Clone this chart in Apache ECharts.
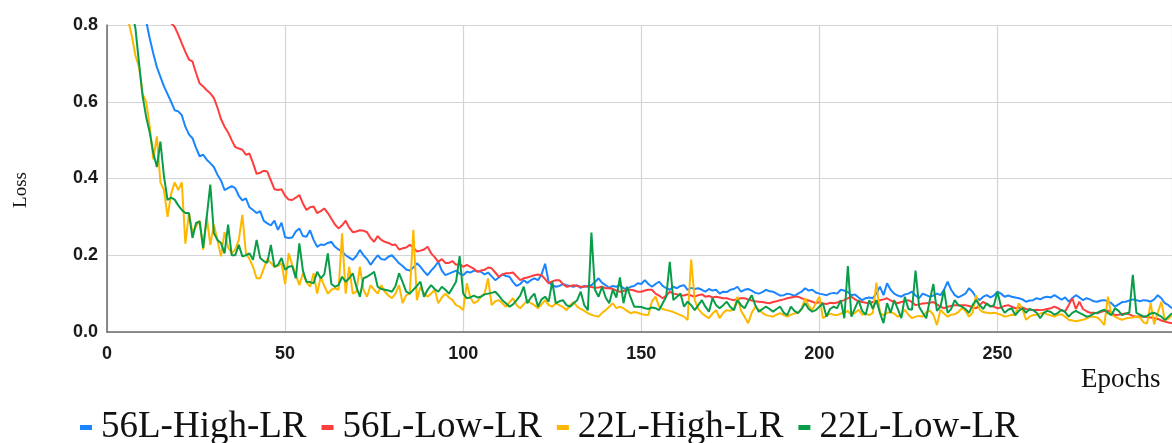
<!DOCTYPE html>
<html>
<head>
<meta charset="utf-8">
<script src="https://cdn.jsdelivr.net/npm/echarts@6/dist/echarts.min.js"></script>
<style>
html,body{margin:0;padding:0;background:#fff;}
#chart{width:1172px;height:443px;}
</style>
</head>
<body>
<div id="chart"></div>
<script>
// Epoch numbers 1..299 (x categories)
const epochs = [];
for (let e = 1; e <= 299; e++) epochs.push(e);

const seriesNames = ['56L-High-LR', '56L-Low-LR', '22L-High-LR', '22L-Low-LR'];
const xTicks = [0, 50, 100, 150, 200, 250];
const yTicks = [0.0, 0.2, 0.4, 0.6, 0.8];

const blue56High = [
2.10,1.80,1.55,1.38,1.24,1.12,1.03,0.96,0.90,0.85,
0.81,0.765,0.726,0.69,0.665,0.64,0.62,0.60,0.578,0.575,
0.565,0.535,0.515,0.505,0.48,0.458,0.462,0.449,0.44,0.43,
0.41,0.395,0.37,0.375,0.38,0.375,0.355,0.343,0.348,0.325,
0.318,0.31,0.315,0.29,0.283,0.278,0.29,0.266,0.285,0.247,
0.245,0.246,0.262,0.27,0.25,0.248,0.265,0.24,0.222,0.228,
0.227,0.232,0.235,0.222,0.215,0.21,0.20,0.194,0.188,0.198,
0.214,0.20,0.19,0.175,0.188,0.20,0.19,0.188,0.196,0.20,
0.19,0.179,0.172,0.163,0.16,0.168,0.179,0.17,0.158,0.148,
0.16,0.17,0.183,0.16,0.148,0.152,0.156,0.16,0.152,0.148,
0.157,0.155,0.16,0.158,0.157,0.15,0.155,0.145,0.135,0.142,
0.15,0.146,0.144,0.13,0.12,0.125,0.135,0.128,0.135,0.14,
0.135,0.15,0.178,0.13,0.122,0.118,0.12,0.125,0.122,0.12,
0.118,0.122,0.115,0.12,0.118,0.122,0.13,0.14,0.128,0.122,
0.115,0.12,0.118,0.122,0.114,0.112,0.118,0.12,0.127,0.125,
0.135,0.125,0.118,0.125,0.131,0.12,0.114,0.11,0.118,0.114,
0.12,0.122,0.11,0.115,0.112,0.114,0.11,0.105,0.112,0.108,
0.11,0.10,0.105,0.104,0.11,0.112,0.118,0.105,0.11,0.112,
0.108,0.102,0.10,0.104,0.11,0.106,0.105,0.10,0.095,0.096,
0.10,0.098,0.094,0.10,0.105,0.114,0.108,0.11,0.103,0.10,
0.098,0.096,0.10,0.102,0.10,0.11,0.108,0.104,0.096,0.098,
0.09,0.083,0.088,0.09,0.088,0.10,0.118,0.096,0.127,0.11,
0.10,0.095,0.092,0.098,0.10,0.105,0.095,0.088,0.10,0.096,
0.092,0.095,0.10,0.096,0.11,0.131,0.11,0.096,0.09,0.095,
0.10,0.114,0.105,0.09,0.083,0.092,0.096,0.09,0.095,0.105,
0.10,0.092,0.095,0.092,0.09,0.088,0.085,0.079,0.082,0.083,
0.088,0.085,0.09,0.092,0.09,0.096,0.09,0.084,0.09,0.079,
0.088,0.096,0.09,0.083,0.088,0.085,0.08,0.079,0.082,0.083,
0.08,0.075,0.066,0.072,0.078,0.079,0.082,0.085,0.083,0.08,
0.083,0.082,0.079,0.085,0.096,0.088,0.075,0.07,0.062
];

const red56Low = [
2.40,2.10,1.85,1.65,1.50,1.38,1.28,1.19,1.12,1.06,
1.01,0.965,0.93,0.895,0.865,0.84,0.82,0.805,0.795,0.775,
0.752,0.73,0.71,0.705,0.675,0.648,0.64,0.63,0.622,0.61,
0.585,0.555,0.535,0.52,0.50,0.482,0.478,0.475,0.462,0.465,
0.44,0.412,0.415,0.42,0.418,0.395,0.372,0.37,0.372,0.355,
0.345,0.344,0.35,0.357,0.335,0.318,0.325,0.327,0.31,0.315,
0.322,0.31,0.295,0.28,0.27,0.278,0.29,0.272,0.26,0.262,
0.265,0.264,0.26,0.245,0.235,0.25,0.24,0.235,0.232,0.227,
0.228,0.215,0.218,0.22,0.227,0.22,0.21,0.212,0.215,0.222,
0.205,0.195,0.183,0.19,0.18,0.18,0.185,0.175,0.177,0.17,
0.175,0.17,0.165,0.157,0.16,0.162,0.168,0.166,0.155,0.144,
0.15,0.153,0.153,0.155,0.145,0.135,0.14,0.142,0.145,0.148,
0.15,0.148,0.138,0.127,0.132,0.135,0.135,0.125,0.118,0.12,
0.122,0.12,0.118,0.118,0.12,0.117,0.115,0.116,0.118,0.114,
0.114,0.112,0.108,0.105,0.107,0.11,0.11,0.108,0.105,0.105,
0.108,0.11,0.11,0.10,0.095,0.088,0.095,0.105,0.10,0.098,
0.096,0.095,0.098,0.095,0.092,0.096,0.098,0.092,0.094,0.09,
0.092,0.09,0.088,0.088,0.085,0.083,0.086,0.088,0.088,0.085,
0.082,0.08,0.079,0.078,0.076,0.075,0.078,0.08,0.083,0.085,
0.088,0.09,0.092,0.092,0.088,0.085,0.082,0.079,0.075,0.078,
0.074,0.073,0.076,0.075,0.077,0.08,0.083,0.088,0.092,0.085,
0.08,0.078,0.076,0.075,0.078,0.08,0.083,0.085,0.088,0.082,
0.078,0.075,0.078,0.08,0.083,0.078,0.07,0.072,0.074,0.075,
0.076,0.078,0.072,0.066,0.062,0.066,0.068,0.07,0.07,0.07,
0.07,0.068,0.064,0.062,0.07,0.079,0.072,0.068,0.066,0.062,
0.064,0.068,0.07,0.066,0.062,0.063,0.064,0.06,0.058,0.057,
0.058,0.057,0.058,0.06,0.062,0.066,0.062,0.056,0.054,0.07,
0.088,0.06,0.079,0.06,0.054,0.05,0.05,0.049,0.052,0.055,
0.056,0.05,0.044,0.045,0.047,0.048,0.046,0.042,0.04,0.041,
0.04,0.039,0.038,0.036,0.034,0.03,0.027,0.025,0.023
];

const yellow22High = [
1.90,1.55,1.28,1.08,0.92,0.81,0.77,0.72,0.69,0.62,
0.60,0.535,0.45,0.51,0.39,0.37,0.30,0.36,0.39,0.37,
0.39,0.23,0.31,0.26,0.275,0.29,0.214,0.30,0.227,0.28,
0.24,0.197,0.26,0.22,0.205,0.215,0.24,0.305,0.205,0.19,
0.17,0.14,0.14,0.165,0.19,0.18,0.17,0.172,0.18,0.125,
0.205,0.175,0.15,0.122,0.153,0.13,0.118,0.153,0.10,0.144,
0.12,0.10,0.11,0.114,0.11,0.257,0.10,0.17,0.10,0.105,
0.17,0.11,0.092,0.122,0.11,0.10,0.122,0.105,0.095,0.088,
0.10,0.122,0.075,0.096,0.10,0.266,0.083,0.118,0.10,0.092,
0.10,0.11,0.075,0.09,0.10,0.09,0.083,0.07,0.066,0.057,
0.127,0.09,0.075,0.08,0.092,0.10,0.14,0.07,0.08,0.083,
0.075,0.066,0.078,0.088,0.07,0.062,0.072,0.083,0.075,0.07,
0.062,0.072,0.083,0.07,0.066,0.075,0.07,0.065,0.057,0.07,
0.078,0.066,0.06,0.055,0.049,0.045,0.042,0.04,0.05,0.057,
0.066,0.075,0.062,0.066,0.062,0.055,0.049,0.052,0.05,0.047,
0.045,0.044,0.08,0.092,0.066,0.06,0.057,0.055,0.052,0.048,
0.044,0.04,0.031,0.189,0.083,0.06,0.049,0.042,0.036,0.048,
0.057,0.036,0.05,0.057,0.055,0.06,0.092,0.055,0.04,0.023,
0.05,0.066,0.058,0.05,0.044,0.042,0.04,0.045,0.049,0.044,
0.04,0.045,0.048,0.05,0.06,0.088,0.068,0.057,0.075,0.092,
0.036,0.042,0.048,0.045,0.044,0.048,0.05,0.055,0.044,0.05,
0.058,0.045,0.048,0.044,0.05,0.129,0.05,0.044,0.05,0.052,
0.048,0.04,0.045,0.058,0.045,0.036,0.04,0.042,0.04,0.052,
0.056,0.045,0.018,0.058,0.048,0.04,0.045,0.046,0.052,0.062,
0.055,0.04,0.05,0.096,0.058,0.052,0.05,0.049,0.05,0.048,
0.045,0.04,0.042,0.045,0.044,0.075,0.06,0.032,0.04,0.044,
0.045,0.048,0.05,0.046,0.043,0.04,0.045,0.046,0.04,0.032,
0.03,0.028,0.03,0.032,0.035,0.04,0.04,0.038,0.03,0.018,
0.092,0.045,0.04,0.035,0.032,0.035,0.037,0.038,0.04,0.038,
0.025,0.022,0.075,0.02,0.05,0.079,0.03,0.035,0.044
];

const green22Low = [
2.00,1.65,1.38,1.17,1.02,0.91,0.84,0.79,0.70,0.615,
0.56,0.52,0.466,0.43,0.496,0.405,0.344,0.35,0.345,0.33,
0.318,0.31,0.31,0.245,0.284,0.288,0.219,0.30,0.384,0.258,
0.24,0.232,0.205,0.28,0.20,0.20,0.227,0.197,0.20,0.205,
0.188,0.24,0.193,0.185,0.18,0.227,0.17,0.175,0.193,0.162,
0.17,0.172,0.14,0.231,0.16,0.131,0.13,0.127,0.157,0.14,
0.15,0.205,0.125,0.118,0.122,0.144,0.131,0.14,0.153,0.118,
0.092,0.14,0.144,0.15,0.157,0.118,0.112,0.11,0.108,0.105,
0.12,0.153,0.13,0.105,0.10,0.11,0.12,0.131,0.092,0.11,
0.122,0.112,0.105,0.118,0.11,0.10,0.115,0.131,0.198,0.10,
0.088,0.09,0.095,0.09,0.092,0.098,0.10,0.102,0.105,0.095,
0.083,0.075,0.066,0.072,0.083,0.095,0.118,0.075,0.09,0.10,
0.066,0.085,0.092,0.079,0.131,0.075,0.08,0.083,0.07,0.066,
0.075,0.083,0.105,0.07,0.057,0.259,0.11,0.092,0.118,0.09,
0.075,0.11,0.09,0.142,0.075,0.118,0.09,0.066,0.066,0.065,
0.062,0.06,0.064,0.062,0.057,0.075,0.092,0.183,0.083,0.092,
0.10,0.066,0.079,0.07,0.057,0.07,0.083,0.066,0.053,0.088,
0.07,0.062,0.07,0.079,0.065,0.057,0.083,0.07,0.062,0.08,
0.096,0.07,0.053,0.06,0.066,0.06,0.053,0.06,0.066,0.05,
0.044,0.066,0.055,0.049,0.06,0.075,0.06,0.053,0.057,0.066,
0.075,0.04,0.06,0.066,0.062,0.083,0.036,0.172,0.04,0.062,
0.083,0.055,0.045,0.083,0.06,0.083,0.05,0.023,0.075,0.05,
0.083,0.06,0.036,0.092,0.06,0.058,0.16,0.066,0.05,0.036,
0.083,0.125,0.055,0.066,0.11,0.05,0.06,0.083,0.07,0.066,
0.06,0.05,0.07,0.083,0.07,0.06,0.075,0.066,0.07,0.105,
0.066,0.05,0.058,0.062,0.044,0.055,0.062,0.05,0.06,0.057,
0.05,0.036,0.05,0.055,0.052,0.045,0.05,0.058,0.052,0.04,
0.05,0.055,0.05,0.045,0.04,0.042,0.048,0.05,0.055,0.058,
0.05,0.044,0.062,0.055,0.044,0.048,0.05,0.149,0.05,0.045,
0.04,0.042,0.048,0.05,0.045,0.04,0.031,0.04,0.049
];

const colors = ['#1a85ff', '#ff3d3d', '#ffb800', '#0a9d49'];
const seriesValues = [blue56High, red56Low, yellow22High, green22Low];

function pairs(vals) {
  return epochs.map((e, i) => [e, vals[i]]);
}

const chart = echarts.init(document.getElementById('chart'), null, {renderer: 'canvas'});
const tickFont = {fontFamily: '"Liberation Sans", Arial, sans-serif', fontWeight: 'bold', fontSize: 18, color: '#1a1a1a'};

chart.setOption({
  animation: false,
  backgroundColor: '#ffffff',
  color: colors,
  grid: {left: 107, right: 0, top: 25, bottom: 111, outerBoundsMode: 'none', containLabel: false},
  xAxis: {
    type: 'value', min: 0, max: 299, interval: 50,
    axisLine: {show: true, onZero: false, lineStyle: {color: '#6b6b6b', width: 1.5}},
    axisTick: {show: false},
    splitLine: {show: true, lineStyle: {color: '#d4d4d4', width: 1.2}},
    axisLabel: Object.assign({margin: 13, showMaxLabel: false,
      formatter: v => (xTicks.indexOf(v) >= 0 ? String(v) : '')}, tickFont)
  },
  yAxis: {
    type: 'value', min: 0, max: 0.8, interval: 0.2,
    axisLine: {show: true, lineStyle: {color: '#6b6b6b', width: 1.5}},
    axisTick: {show: false},
    splitLine: {show: true, lineStyle: {color: '#d4d4d4', width: 1.2}},
    axisLabel: Object.assign({margin: 9,
      formatter: v => yTicks.some(t => Math.abs(t - v) < 1e-9) ? v.toFixed(1) : ''}, tickFont)
  },
  legend: {
    data: seriesNames,
    left: 80,
    top: 409,
    padding: 0,
    icon: 'rect',
    itemWidth: 12,
    itemHeight: 5,
    itemGap: 15,
    textStyle: {fontFamily: '"Liberation Serif", "Times New Roman", serif', fontSize: 37, color: '#111', padding: [0, 0, 0, 4]}
  },
  graphic: [
    {type: 'text', left: 1081, top: 366,
      style: {text: 'Epochs', font: '27px "Liberation Serif", serif', fill: '#111'}},
    {type: 'text', x: 21, y: 190, rotation: Math.PI / 2,
      style: {text: 'Loss', font: '19px "Liberation Serif", serif', fill: '#111', align: 'center', verticalAlign: 'middle'}}
  ],
  series: seriesNames.map((name, i) => ({
    name: name,
    type: 'line',
    data: pairs(seriesValues[i]),
    showSymbol: false,
    symbol: 'none',
    clip: true,
    lineStyle: {width: 2, color: colors[i]},
    itemStyle: {color: colors[i]}
  }))
});
</script>
</body>
</html>
